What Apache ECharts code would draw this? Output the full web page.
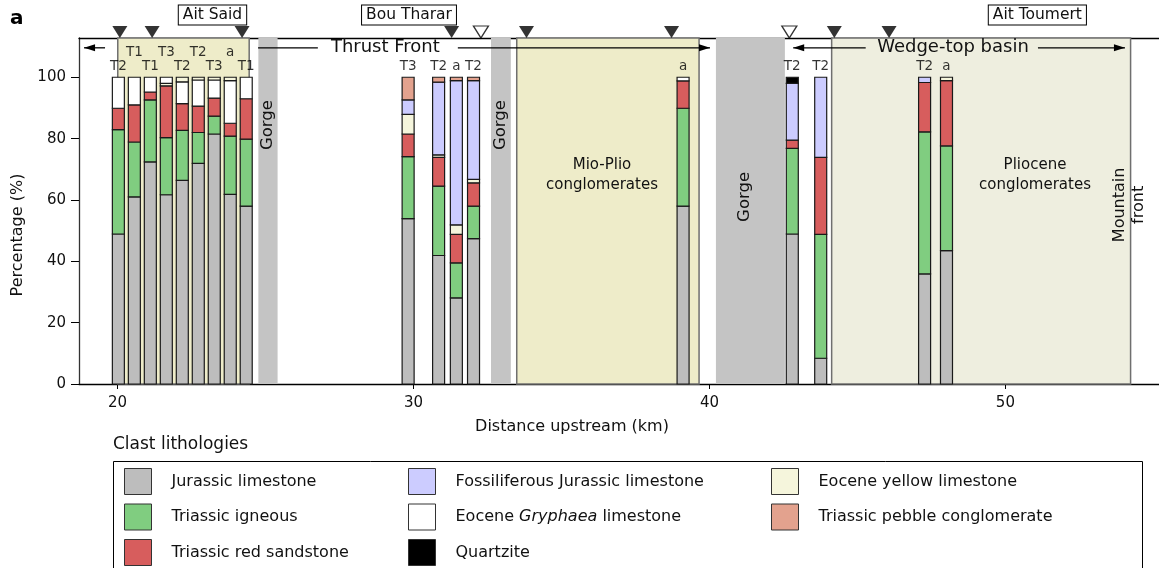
<!DOCTYPE html>
<html><head><meta charset="utf-8">
<script src="https://cdn.jsdelivr.net/npm/echarts@6/dist/echarts.min.js"></script>
<style>html,body{margin:0;padding:0;background:#fff}#c{width:1159px;height:568px}</style>
</head><body><div id="c"></div>
<script>
// ---- data ----
const sampleKm     = [20.03, 20.57, 21.11, 21.65, 22.19, 22.73, 23.27, 23.81, 24.35, 29.82, 30.85, 31.45, 32.03, 39.11, 42.80, 43.76, 47.27, 48.01];
const sampleLabels = ['T2','T1','T1','T3','T2','T2','T3','a','T1','T3','T2','a','T2','a','T2','T2','T2','a'];
const labelRow     = [0,1,0,1,0,1,0,1,0, 0,0,0,0,0,0,0,0,0];
// percentages per lithology (stack order bottom -> top)
const jurassicLst  = [48.9, 61.0, 72.4, 61.7, 66.4, 71.9, 81.5, 61.8, 58.0, 53.9, 41.9, 28.1, 47.4, 58.0, 48.9, 8.4, 35.9, 43.5];
const triIgneous   = [34.0, 17.9, 20.2, 18.6, 16.3, 10.1, 5.8, 19.0, 21.8, 20.2, 22.6, 11.4, 10.6, 31.9, 27.9, 40.4, 46.3, 34.1];
const triRedSst    = [7.0, 12.1, 2.6, 16.9, 8.7, 8.6, 5.9, 4.2, 13.2, 7.4, 9.4, 9.3, 7.6, 8.9, 2.7, 25.1, 16.1, 21.3];
const eoYellow     = [null, null, null, 0.8, null, null, null, null, null, 6.4, 0.8, 3.1, 1.1, null, null, null, null, 1.1];
const fossJurassic = [null, null, null, null, null, null, null, null, null, 4.7, 23.7, 47.0, 32.2, null, 18.5, 26.1, 1.7, null];
const eoGryphaea   = [10.1, 9.0, 4.8, 2.0, 7.1, 8.5, 5.9, 13.9, 7.0, null, null, null, null, 1.2, null, null, null, null];
const eoYellowTop  = [null, null, null, null, 1.5, 0.9, 0.9, 1.1, null, null, null, null, null, null, null, null, null, null];
const triPebble    = [null, null, null, null, null, null, null, null, null, 7.4, 1.6, 1.1, 1.1, null, null, null, null, null];
const quartzite    = [null, null, null, null, null, null, null, null, null, null, null, null, null, null, 2.0, null, null, null];
const yTicks = [0, 20, 40, 60, 80, 100];
const xTicks = [20, 30, 40, 50];
const markerKm     = [20.08, 21.17, 24.21, 31.29, 32.28, 33.82, 38.72, 42.70, 44.22, 46.07];
const markerFilled = [1, 1, 1, 1, 0, 1, 1, 0, 1, 1];
const gorgeFrom = [24.76, 32.62, 40.22];
const gorgeTo   = [25.41, 33.29, 42.55];
const basinFrom = [20.01, 33.49, 44.13];
const basinTo   = [24.45, 39.65, 54.23];
const siteNames = ['Ait Said', 'Bou Tharar', 'Ait Toumert'];
const siteKm    = [23.21, 29.85, 51.08];

const FAM = "'DejaVu Sans', Verdana, sans-serif";
const lith = [
  ['Jurassic limestone', jurassicLst, '#bdbdbd'],
  ['Triassic igneous', triIgneous, '#80cd80'],
  ['Triassic red sandstone', triRedSst, '#d75d5d'],
  ['Eocene yellow limestone', eoYellow, '#f5f5dc'],
  ['Fossiliferous Jurassic limestone', fossJurassic, '#ccccff'],
  ['Eocene Gryphaea limestone', eoGryphaea, '#ffffff'],
  ['Eocene yellow limestone', eoYellowTop, '#f5f5dc'],
  ['Triassic pebble conglomerate', triPebble, '#e3a28e'],
  ['Quartzite', quartzite, '#000000']
];

const chart = echarts.init(document.getElementById('c'), null, {renderer: 'canvas'});

// stacked segments: each segment spans [cumulative below, cumulative below + value]
const running = sampleKm.map(() => 0);
const barSeries = lith.map(([name, vals, color]) => {
  const data = [];
  vals.forEach((v, i) => {
    if (v == null) return;
    data.push([sampleKm[i], running[i], running[i] + v]);
    running[i] += v;
  });
  return {
    name, type: 'custom', z: 3, silent: true,
    itemStyle: {color, borderColor: '#1a1a1a', borderWidth: 1.2},
    encode: {x: 0, y: [1, 2]},
    data,
    renderItem: (params, api) => {
      const p0 = api.coord([api.value(0), api.value(1)]);
      const p1 = api.coord([api.value(0), api.value(2)]);
      return {type: 'rect', shape: {x: p0[0] - 6, y: p1[1], width: 12, height: p0[1] - p1[1]},
              style: api.style({stroke: '#1a1a1a', lineWidth: 1.2})};
    }
  };
});

const regionSeries = {
  type: 'scatter', data: [], z: 1, silent: true,
  markArea: {
    silent: true,
    data: [
      ...gorgeFrom.map((f, i) => [{xAxis: f, itemStyle: {color: '#c4c4c4', borderWidth: 0}}, {xAxis: gorgeTo[i]}]),
      ...basinFrom.map((f, i) => [{xAxis: f, itemStyle: {color: i === 2 ? '#eeeedf' : '#eeecc9', borderColor: '#6f6f6f', borderWidth: 1.5}}, {xAxis: basinTo[i]}])
    ]
  }
};

const labelSeries = {
  type: 'scatter', z: 5, silent: true, symbolSize: 0,
  data: sampleKm.map((x, i) => ({
    value: [x, 100],
    label: {show: true, position: 'top', distance: labelRow[i] ? 18 : 4, formatter: sampleLabels[i],
            fontFamily: FAM, fontSize: 13.5, color: '#000'}
  }))
};

const markerSeries = {
  type: 'scatter', z: 6, silent: true, clip: false,
  symbol: 'triangle', symbolRotate: 180, symbolSize: [15, 12], symbolOffset: [0, -6],
  data: markerKm.map((x, i) => ({
    value: [x, 112.8],
    itemStyle: markerFilled[i] ? {color: '#000'} : {color: '#fff', borderColor: '#000', borderWidth: 1.3}
  }))
};

const legendBase = {
  orient: 'vertical', itemWidth: 27, itemHeight: 26, itemGap: 8.5, icon: 'rect',
  selectedMode: false, top: 468, padding: 0, height: 100,
  itemStyle: {borderColor: '#333', borderWidth: 1},
  textStyle: {fontFamily: FAM, fontSize: 16, color: '#111', padding: [0, 0, 0, 15],
              rich: {i: {fontFamily: FAM, fontSize: 16, fontStyle: 'italic', color: '#111'}}},
  formatter: n => n === 'Eocene Gryphaea limestone' ? 'Eocene {i|Gryphaea} limestone' : n
};

chart.setOption({
  animation: false,
  backgroundColor: '#fff',
  grid: {left: 79, right: 0, top: 38, bottom: 184, containLabel: false},
  xAxis: [{
    type: 'value', min: 18.70, max: 55.19,
    axisLine: {show: true, lineStyle: {color: '#000', width: 1.3}},
    axisTick: {show: true, length: 5, lineStyle: {color: '#000'}, customValues: xTicks},
    axisLabel: {fontFamily: FAM, fontSize: 15, color: '#111', margin: 12, customValues: xTicks},
    splitLine: {show: false},
    name: 'Distance upstream (km)', nameLocation: 'middle', nameGap: 35,
    nameTextStyle: {fontFamily: FAM, fontSize: 16, color: '#111', padding: [0, 94, 0, 0]}
  }, {
    type: 'value', position: 'top', min: 18.70, max: 55.19,
    axisLine: {show: true, lineStyle: {color: '#000', width: 1.3}},
    axisTick: {show: false}, axisLabel: {show: false}, splitLine: {show: false}
  }],
  yAxis: {
    type: 'value', min: 0, max: 112.8,
    axisLine: {show: true, lineStyle: {color: '#333', width: 1.3}},
    axisTick: {show: true, length: 8, lineStyle: {color: '#000'}, customValues: yTicks},
    axisLabel: {fontFamily: FAM, fontSize: 15, color: '#111', margin: 13, customValues: yTicks},
    splitLine: {show: false},
    name: 'Percentage (%)', nameLocation: 'middle', nameGap: 53,
    nameTextStyle: {fontFamily: FAM, fontSize: 16, color: '#111', padding: [0, 48, 0, 0]}
  },
  legend: [
    Object.assign({}, legendBase, {left: 124, data: ['Jurassic limestone', 'Triassic igneous', 'Triassic red sandstone']}),
    Object.assign({}, legendBase, {left: 408, data: ['Fossiliferous Jurassic limestone', 'Eocene Gryphaea limestone', 'Quartzite']}),
    Object.assign({}, legendBase, {left: 771, data: ['Eocene yellow limestone', 'Triassic pebble conglomerate']})
  ],
  series: [regionSeries, ...barSeries, labelSeries, markerSeries]
});

// ---- annotations placed through the chart's scales ----
function P(x, y) { return chart.convertToPixel({xAxisIndex: 0, yAxisIndex: 0}, [x, y]); }
const g = [];
const txt = (x, y, text, size, extra) => Object.assign({
  type: 'text', x, y, z: 20, silent: true,
  style: Object.assign({text, fill: '#111', font: `${size}px ${FAM}`, align: 'center', verticalAlign: 'middle'}, extra && extra.style || {})
}, extra && extra.el || {});
function hline(k1, k2, yv) {
  const a = P(k1, yv), b = P(k2, yv);
  g.push({type: 'line', z: 20, silent: true, shape: {x1: a[0], y1: a[1], x2: b[0], y2: b[1]}, style: {stroke: '#000', lineWidth: 1.3}});
}
function head(k, yv, dir) {
  const p = P(k, yv);
  g.push({type: 'polygon', z: 20, silent: true,
    shape: {points: [[p[0], p[1]], [p[0] - dir * 11, p[1] - 3.5], [p[0] - dir * 11, p[1] + 3.5]]},
    style: {fill: '#000'}});
}
const arrowY = 109.6;
// Thrust front
hline(18.87, 19.58, arrowY); head(18.87, arrowY, -1);
hline(24.75, 26.77, arrowY);
{ const p = P(29.05, arrowY); g.push(txt(p[0], p[1], 'Thrust Front', 18)); }
hline(31.5, 40.02, arrowY); head(40.02, arrowY, 1);
// Wedge-top basin
hline(42.83, 45.28, arrowY); head(42.83, arrowY, -1);
{ const p = P(48.23, arrowY); g.push(txt(p[0], p[1], 'Wedge-top basin', 18)); }
hline(51.1, 54.04, arrowY); head(54.04, arrowY, 1);
// site names
siteNames.forEach((n, i) => {
  const p = P(siteKm[i], 120.3);
  g.push(txt(p[0], p[1], n, 15.5, {style: {backgroundColor: '#fff', borderColor: '#000', borderWidth: 1, padding: [2, 4, 1, 4]}}));
});
// region texts
[[25.08, 84.4], [32.96, 84.4], [41.2, 61.0]].forEach(([k, v]) => {
  const p = P(k, v);
  g.push(txt(p[0], p[1], 'Gorge', 16.5, {el: {rotation: Math.PI / 2}}));
});
{ const p = P(36.37, 68.1); g.push(txt(p[0], p[1], 'Mio-Plio\nconglomerates', 15, {style: {lineHeight: 20}})); }
{ const p = P(51.0, 68.1); g.push(txt(p[0], p[1], 'Pliocene\nconglomerates', 15, {style: {lineHeight: 20}})); }
{ const p = P(54.2, 58.4); g.push(txt(p[0], p[1], 'Mountain\nfront', 16, {style: {lineHeight: 19}, el: {rotation: Math.PI / 2}})); }
// panel letter
g.push({type: 'text', left: 10, top: 9, z: 20, style: {text: 'a', font: `bold 20px ${FAM}`, fill: '#000'}});
// legend frame + title
g.push({type: 'text', left: 113, top: 436, z: 20, style: {text: 'Clast lithologies', font: `17px ${FAM}`, fill: '#111'}});
g.push({type: 'rect', z: 0, silent: true, shape: {x: 113.5, y: 461.5, width: 1029, height: 120}, style: {fill: 'none', stroke: '#000', lineWidth: 1}});
chart.setOption({graphic: g});
</script>
</body></html>
